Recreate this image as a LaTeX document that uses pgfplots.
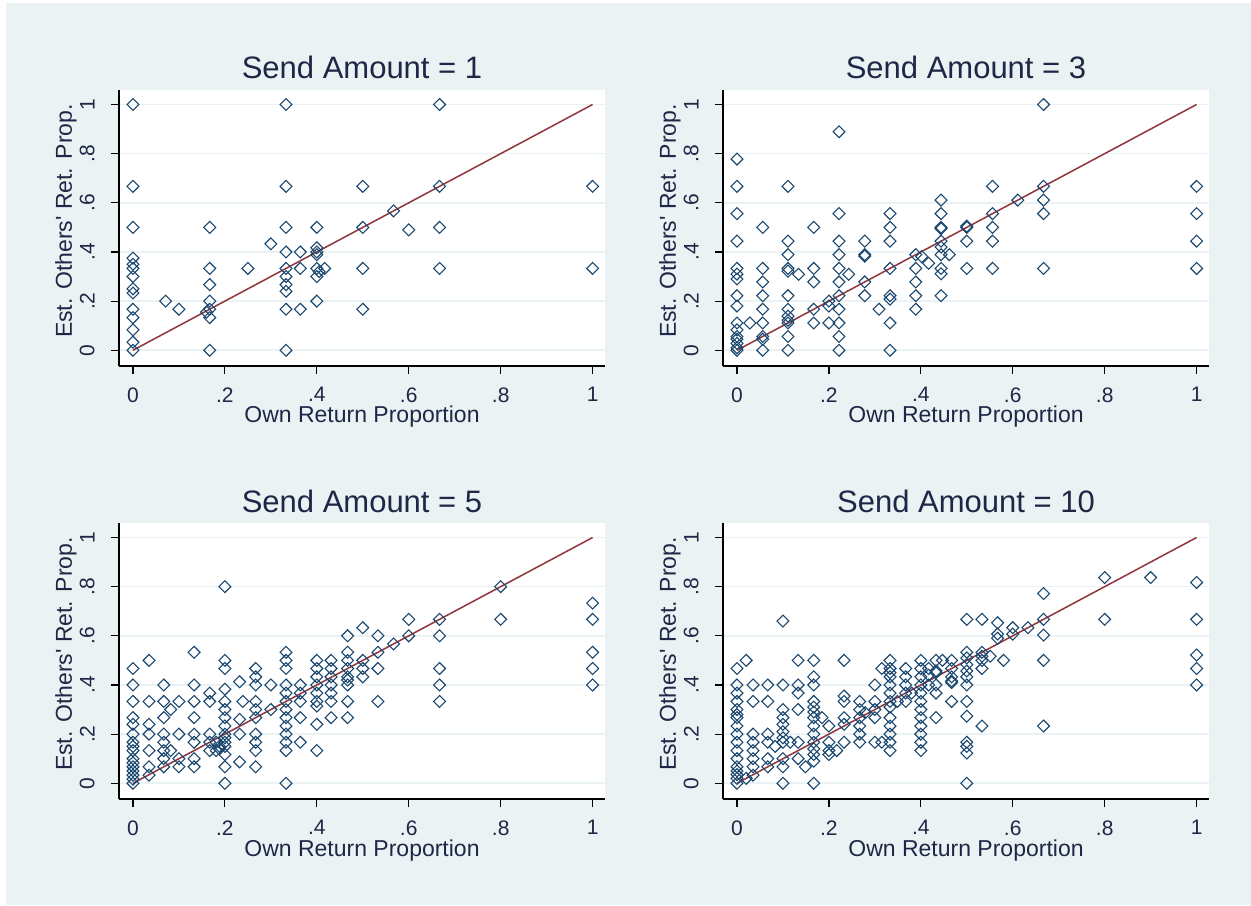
\documentclass[border=0pt]{standalone}
\usepackage{fontspec}
\setmainfont{Liberation Sans}
\usepackage{pgfplots}
\pgfplotsset{compat=1.18}
\definecolor{bgc}{RGB}{234,242,243}
\definecolor{mk}{RGB}{26,71,111}
\definecolor{ln}{RGB}{144,53,59}
\definecolor{txt}{RGB}{30,40,70}
\definecolor{gridc}{RGB}{234,242,243}
\pgfplotsset{
 panel/.style={
  scale only axis, width=243pt, height=138pt,
  xmin=-0.0304, xmax=1.027, ymin=-0.064, ymax=1.059,
  axis background/.style={fill=white},
  axis x line=bottom, axis y line=left,
  axis line style={-, line width=0.6pt, black},
  tick align=outside, major tick length=4pt,
  tick style={line width=0.6pt, black},
  xtick={0,0.2,0.4,0.6,0.8,1}, xticklabels={0,.2,.4,.6,.8,1},
  ytick={0,0.2,0.4,0.6,0.8,1}, yticklabels={0,.2,.4,.6,.8,1},
  ymajorgrids, grid style={gridc, line width=0.8pt},
  ticklabel style={font=\fontsize{10.5}{12}\selectfont, text=txt},
  xticklabel style={inner sep=0pt, yshift=-6.5pt},
  yticklabel style={inner sep=0pt, xshift=-8pt, rotate=90, anchor=south},
  xlabel={Own Return Proportion}, ylabel={Est. Others\textquotesingle{} Ret. Prop.},
  label style={font=\fontsize{11.5}{13}\selectfont, text=txt},
  xlabel style={at={(axis description cs:0.5,0)}, anchor=base, yshift=-28.5pt},
  ylabel style={at={(axis description cs:-0.097,0.525)}, anchor=base},
  title style={at={(axis description cs:0.5,1)}, anchor=base, yshift=-0.5pt, font=\fontsize{15.5}{18}\selectfont, text=txt},
 },
 pts/.style={only marks, mark=square, mark size=2.1pt, mark options={rotate=45, draw=mk, line width=0.55pt, fill=none}},
 fit/.style={ln, line width=0.75pt, no marks},
}
\begin{document}
\begin{tikzpicture}
\path[use as bounding box, fill=white] (0,0) rectangle (625.5pt,452.5pt);
\fill[bgc] (3pt,0) rectangle (625.5pt,451pt);

% Send Amount = 1
\begin{axis}[panel, at={(59.5pt,269.5pt)}, anchor=south west, title={Send Amount = 1}]
\addplot[pts] coordinates {
(0,1) (0,0.667) (0,0.5) (0,0.375) (0,0.35) (0,0.333) (0,0.3) (0,0.25) (0,0.233) (0,0.167) (0,0.133) (0,0.083) (0,0.033) (0,0)
(0.071,0.2) (0.1,0.167)
(0.167,0.5) (0.167,0.333) (0.167,0.267) (0.167,0.2) (0.167,0.167) (0.16,0.155) (0.167,0.133) (0.167,0)
(0.25,0.333) (0.3,0.433)
(0.333,1) (0.333,0.667) (0.333,0.5) (0.333,0.4) (0.333,0.333) (0.333,0.3) (0.333,0.267) (0.333,0.24) (0.333,0.167) (0.333,0)
(0.364,0.4) (0.364,0.333) (0.364,0.167)
(0.4,0.5) (0.4,0.417) (0.4,0.4) (0.4,0.389) (0.4,0.333) (0.4,0.3) (0.4,0.2) (0.417,0.333) (0.405,0.32)
(0.5,0.667) (0.5,0.5) (0.5,0.333) (0.5,0.167)
(0.567,0.567) (0.6,0.49)
(0.667,1) (0.667,0.667) (0.667,0.5) (0.667,0.333)
(1,0.667) (1,0.333)
};
\addplot[fit] coordinates {(0,0) (1,1)};
\end{axis}

% Send Amount = 3
\begin{axis}[panel, at={(361.5pt,269.5pt)}, anchor=south west, title={Send Amount = 3}]
\addplot[pts] coordinates {
(0,0.778) (0,0.667) (0,0.556) (0,0.444) (0,0.333) (0,0.31) (0,0.29) (0,0.222) (0,0.18) (0,0.111) (0,0.083) (0,0.056) (0,0.045) (0,0.028) (0,0.01) (0,0)
(0.028,0.111)
(0.056,0.5) (0.056,0.333) (0.056,0.278) (0.056,0.222) (0.056,0.167) (0.056,0.111) (0.056,0.056) (0.056,0.045) (0.056,0)
(0.111,0.667) (0.111,0.444) (0.111,0.389) (0.111,0.333) (0.111,0.322) (0.111,0.222) (0.111,0.167) (0.111,0.139) (0.111,0.122) (0.111,0.111) (0.111,0.056) (0.111,0)
(0.134,0.309)
(0.167,0.5) (0.167,0.333) (0.167,0.278) (0.167,0.167) (0.167,0.111)
(0.2,0.2) (0.2,0.18) (0.2,0.111)
(0.222,0.889) (0.222,0.556) (0.222,0.444) (0.222,0.389) (0.222,0.333) (0.222,0.278) (0.222,0.222) (0.222,0.167) (0.222,0.111) (0.222,0.056) (0.222,0)
(0.243,0.309)
(0.278,0.444) (0.278,0.389) (0.278,0.383) (0.278,0.278) (0.278,0.222)
(0.309,0.167)
(0.333,0.556) (0.333,0.5) (0.333,0.444) (0.333,0.333) (0.333,0.222) (0.333,0.208) (0.333,0.111) (0.333,0)
(0.389,0.389) (0.389,0.333) (0.389,0.278) (0.389,0.222) (0.389,0.167)
(0.402,0.381) (0.417,0.354)
(0.444,0.611) (0.444,0.556) (0.444,0.5) (0.444,0.495) (0.444,0.444) (0.444,0.42) (0.444,0.389) (0.444,0.333) (0.444,0.311) (0.444,0.222)
(0.462,0.389)
(0.5,0.5) (0.5,0.505) (0.5,0.444) (0.5,0.333)
(0.556,0.667) (0.556,0.556) (0.556,0.5) (0.556,0.444) (0.556,0.333)
(0.611,0.611)
(0.667,1) (0.667,0.667) (0.667,0.611) (0.667,0.556) (0.667,0.333)
(1,0.667) (1,0.556) (1,0.444) (1,0.333)
};
\addplot[fit] coordinates {(0,0) (1,1)};
\end{axis}

% Send Amount = 5
\begin{axis}[panel, at={(59.5pt,53pt)}, anchor=south west, title={Send Amount = 5}]
\addplot[pts] coordinates {
(0,0.467) (0,0.4) (0,0.333) (0,0.267) (0,0.24) (0,0.2) (0,0.167) (0,0.15) (0,0.133) (0,0.1) (0,0.083) (0,0.067) (0,0.05) (0,0.033) (0,0.017) (0,0)
(0.035,0.5) (0.035,0.333) (0.035,0.24) (0.035,0.2) (0.035,0.133) (0.035,0.067) (0.035,0.033)
(0.067,0.4) (0.067,0.333) (0.067,0.267) (0.067,0.2) (0.067,0.167) (0.067,0.133) (0.067,0.1) (0.067,0.067)
(0.082,0.3) (0.082,0.133)
(0.1,0.333) (0.1,0.2) (0.1,0.1) (0.1,0.067)
(0.133,0.533) (0.133,0.4) (0.133,0.333) (0.133,0.267) (0.133,0.2) (0.133,0.167) (0.133,0.1) (0.133,0.067)
(0.167,0.367) (0.167,0.333) (0.167,0.2) (0.167,0.167) (0.167,0.133)
(0.181,0.167) (0.181,0.133) (0.188,0.15) (0.188,0.14)
(0.2,0.8) (0.2,0.5) (0.2,0.467) (0.2,0.383) (0.2,0.333) (0.2,0.3) (0.2,0.267) (0.2,0.233) (0.2,0.2) (0.2,0.185) (0.2,0.167) (0.2,0.15) (0.2,0.117) (0.2,0.067) (0.2,0)
(0.232,0.413) (0.232,0.26) (0.232,0.2) (0.232,0.087) (0.239,0.333)
(0.267,0.467) (0.267,0.433) (0.267,0.4) (0.267,0.333) (0.267,0.3) (0.267,0.267) (0.267,0.2) (0.267,0.167) (0.267,0.133) (0.267,0.067)
(0.3,0.4) (0.3,0.3)
(0.333,0.533) (0.333,0.5) (0.333,0.467) (0.333,0.4) (0.333,0.367) (0.333,0.333) (0.333,0.3) (0.333,0.267) (0.333,0.233) (0.333,0.2) (0.333,0.167) (0.333,0.133) (0.333,0)
(0.364,0.4) (0.364,0.367) (0.364,0.333) (0.364,0.267) (0.364,0.167)
(0.4,0.5) (0.4,0.467) (0.4,0.433) (0.4,0.4) (0.4,0.367) (0.4,0.333) (0.4,0.314) (0.4,0.24) (0.4,0.133)
(0.431,0.5) (0.431,0.467) (0.431,0.433) (0.431,0.4) (0.431,0.367) (0.431,0.333) (0.431,0.267)
(0.467,0.6) (0.467,0.533) (0.467,0.5) (0.467,0.467) (0.467,0.433) (0.467,0.42) (0.467,0.4) (0.467,0.333) (0.467,0.267)
(0.5,0.633) (0.5,0.5) (0.5,0.467) (0.5,0.433)
(0.533,0.6) (0.533,0.533) (0.533,0.467) (0.533,0.333)
(0.567,0.567)
(0.6,0.667) (0.6,0.6)
(0.667,0.667) (0.667,0.6) (0.667,0.467) (0.667,0.4) (0.667,0.333)
(0.8,0.8) (0.8,0.667)
(1,0.733) (1,0.667) (1,0.533) (1,0.467) (1,0.4)
};
\addplot[fit] coordinates {(0,0) (1,1)};
\end{axis}

% Send Amount = 10
\begin{axis}[panel, at={(361.5pt,53pt)}, anchor=south west, title={Send Amount = 10}]
\addplot[pts] coordinates {
(0,0.467) (0,0.4) (0,0.367) (0,0.333) (0,0.3) (0,0.28) (0,0.267) (0,0.233) (0,0.2) (0,0.167) (0,0.133) (0,0.1) (0,0.067) (0,0.05) (0,0.035) (0,0.02) (0,0)
(0.02,0.5) (0.02,0.02)
(0.035,0.4) (0.035,0.333) (0.035,0.2) (0.035,0.167) (0.035,0.133) (0.035,0.1) (0.035,0.067) (0.035,0.033)
(0.067,0.4) (0.067,0.333) (0.067,0.2) (0.067,0.167) (0.067,0.1) (0.067,0.067)
(0.083,0.15)
(0.1,0.66) (0.1,0.4) (0.1,0.3) (0.1,0.267) (0.1,0.24) (0.1,0.21) (0.1,0.185) (0.1,0.167) (0.1,0.1) (0.1,0.067) (0.1,0)
(0.116,0.167)
(0.133,0.5) (0.133,0.4) (0.133,0.367) (0.133,0.3) (0.133,0.167) (0.133,0.1)
(0.149,0.067)
(0.167,0.5) (0.167,0.433) (0.167,0.4) (0.167,0.333) (0.167,0.31) (0.167,0.29) (0.167,0.267) (0.167,0.233) (0.167,0.2) (0.167,0.167) (0.167,0.14) (0.167,0.117) (0.167,0.09) (0.167,0)
(0.185,0.267)
(0.2,0.233) (0.2,0.167) (0.2,0.133) (0.2,0.117)
(0.217,0.133)
(0.233,0.5) (0.233,0.355) (0.233,0.333) (0.233,0.267) (0.233,0.24) (0.233,0.167)
(0.267,0.333) (0.267,0.3) (0.267,0.267) (0.267,0.233) (0.267,0.2) (0.267,0.167)
(0.279,0.287)
(0.3,0.4) (0.3,0.333) (0.3,0.3) (0.3,0.267) (0.3,0.167)
(0.315,0.467) (0.315,0.167)
(0.333,0.5) (0.333,0.467) (0.333,0.45) (0.333,0.433) (0.333,0.4) (0.333,0.367) (0.333,0.333) (0.333,0.31) (0.333,0.267) (0.333,0.233) (0.333,0.2) (0.333,0.167) (0.333,0.133)
(0.349,0.333)
(0.367,0.467) (0.367,0.433) (0.367,0.4) (0.367,0.367) (0.367,0.333)
(0.38,0.367)
(0.4,0.5) (0.4,0.467) (0.4,0.433) (0.4,0.4) (0.4,0.367) (0.4,0.333) (0.4,0.3) (0.4,0.267) (0.4,0.233) (0.4,0.2) (0.4,0.167) (0.4,0.133)
(0.417,0.467) (0.417,0.44) (0.417,0.4)
(0.433,0.5) (0.433,0.457) (0.433,0.45) (0.433,0.4) (0.433,0.367) (0.433,0.267)
(0.447,0.5)
(0.467,0.5) (0.467,0.467) (0.467,0.433) (0.467,0.416) (0.467,0.41) (0.467,0.333)
(0.5,0.667) (0.5,0.533) (0.5,0.51) (0.5,0.483) (0.5,0.457) (0.5,0.433) (0.5,0.4) (0.5,0.333) (0.5,0.273) (0.5,0.167) (0.5,0.15) (0.5,0.123) (0.5,0)
(0.533,0.667) (0.533,0.533) (0.533,0.517) (0.533,0.5) (0.533,0.467) (0.533,0.233)
(0.551,0.517)
(0.567,0.653) (0.567,0.607) (0.567,0.59)
(0.58,0.5)
(0.6,0.633) (0.6,0.607)
(0.633,0.633)
(0.667,0.772) (0.667,0.667) (0.667,0.603) (0.667,0.5) (0.667,0.233)
(0.8,0.837) (0.8,0.667)
(0.9,0.837)
(1,0.817) (1,0.667) (1,0.522) (1,0.467) (1,0.4)
};
\addplot[fit] coordinates {(0,0) (1,1)};
\end{axis}
\end{tikzpicture}
\end{document}
